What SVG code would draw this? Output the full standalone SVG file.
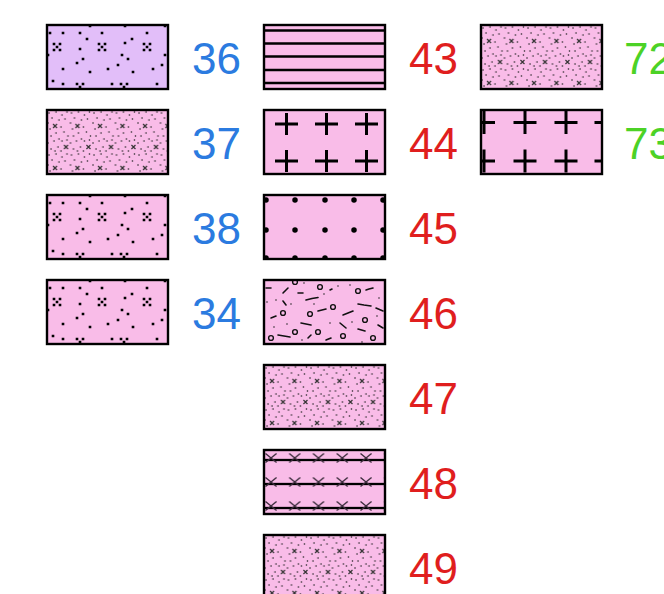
<svg xmlns="http://www.w3.org/2000/svg" width="664" height="594" viewBox="0 0 664 594">
<style>
.bg{fill:#f9bce8}
.lil{fill:#e2bef9}
.fr{stroke:#000;stroke-width:2.4}
.lbl{font-family:"Liberation Sans",Arial,sans-serif;font-size:44px}
.b{fill:#2b7be0}.r{fill:#e01e1e}.g{fill:#4cd226}
.dt{fill:none;stroke:#222;stroke-linecap:round;stroke-width:1.6}
.sq{fill:none;stroke:#000;stroke-linecap:square;stroke-width:2.6}
.xm{fill:none;stroke:#333;stroke-width:1.2}
.ln{fill:none;stroke:#000;stroke-width:2.3}
</style>
<defs>
<pattern id="pSparse" width="121" height="64" patternUnits="userSpaceOnUse">
<path class="sq" d="M7 19h.01M13 19h.01M10 22h.01M7 25h.01M13 25h.01M52 19h.01M58 19h.01M55 22h.01M52 25h.01M58 25h.01M97 19h.01M103 19h.01M100 22h.01M97 25h.01M103 25h.01M30 59h.01M36 59h.01M33 62h.01M74 59h.01M80 59h.01M77 62h.01M3 8h.01M16 8h.01M33 8h.01M55 8h.01M100 8h.01M43 1h.01M78 1h.01M118 1h.01M33 24h.01M40 14h.01M78 18h.01M85 14h.01M75 30h.01M81 34h.01M36 34h.01M30 38h.01M71 40h.01M118 30h.01M115 40h.01M16 44h.01M43 47h.01M61 44h.01M86 47h.01M106 44h.01M6 56h.01M16 59h.01M65 59h.01M110 59h.01M1 30h.01"/>
</pattern>
<pattern id="pFine" width="22.5" height="42" patternUnits="userSpaceOnUse">
<path class="dt" d="M2 3h.01M9 2h.01M15 5h.01M20 2h.01M5 8h.01M12 10h.01M18 9h.01M1 13h.01M14 17h.01M3 19h.01M17 22h.01M9 23h.01M21 26h.01M4 26h.01M12 29h.01M1 33h.01M7 31h.01M15 31h.01M20 30h.01M4 39h.01M11 37h.01M14 41h.01M8 41h.01"/>
<path class="xm" d="M6 14l4 4M10 14l-4 4M17 35l4 4M21 35l-4 4"/>
</pattern>
<pattern id="pH" width="121" height="64" patternUnits="userSpaceOnUse">
<path class="ln" d="M0 5.5H121M0 18.5H121M0 31.5H121M0 45H121M0 58H121"/>
</pattern>
<pattern id="pPlus44" width="121" height="64" patternUnits="userSpaceOnUse">
<path fill="none" stroke="#000" stroke-width="3" d="M11 14h23M22.5 3v22M51 14h23M62.5 3v22M91 14h23M102.5 3v22M11 51h23M22.5 40v22M51 51h23M62.5 40v22M91 51h23M102.5 40v22"/>
</pattern>
<pattern id="pPlus73" width="122" height="64" patternUnits="userSpaceOnUse">
<path fill="none" stroke="#000" stroke-width="3" d="M-9 12.5h23M3 1v23M32.5 12.5h23M44 1v23M73.5 12.5h23M85 1v23M113.5 12.5h23M125 1v23M-9 51h23M3 39.5v23M32.5 51h23M44 39.5v23M73.5 51h23M85 39.5v23M113.5 51h23M125 39.5v23"/>
</pattern>
<pattern id="pDot" width="121" height="64" patternUnits="userSpaceOnUse">
<path fill="none" stroke="#000" stroke-width="5.5" stroke-linecap="round" d="M2 5h.01M31 5h.01M61 5h.01M90 5h.01M119 5h.01M2 35h.01M31 35h.01M61 35h.01M90 35h.01M119 35h.01M2 63h.01M31 63h.01M61 63h.01M90 63h.01M119 63h.01"/>
</pattern>
<pattern id="pX" width="23.75" height="24" patternUnits="userSpaceOnUse">
<path class="ln" d="M0 10H23.75"/>
<path fill="none" stroke="#3a2a3a" stroke-width="1.4" d="M1.5 3.5l11 9M12.5 3.5l-11 9"/>
</pattern>
<pattern id="pCong" width="121" height="64" patternUnits="userSpaceOnUse">
<g fill="none" stroke="#111" stroke-width="1.4">
<circle cx="31" cy="2" r="2.4"/><circle cx="56" cy="7" r="2.4"/><circle cx="94" cy="11" r="2.4"/><circle cx="69" cy="27" r="2.4"/><circle cx="19" cy="33" r="2.4"/><circle cx="46" cy="34" r="2.4"/><circle cx="101" cy="40" r="2.4"/><circle cx="31" cy="52" r="2.4"/><circle cx="54" cy="52" r="2.4"/><circle cx="79" cy="56" r="2.4"/><circle cx="7" cy="58" r="2.4"/><circle cx="109" cy="58" r="2.4"/>
</g>
<path fill="none" stroke="#111" stroke-width="1.6" stroke-linecap="round" d="M2 8h5M19 13l5-5M34 13h5M42 20l6-1.5l6-1M66 10l2-1M102 10l3-1l4-1M94 24l6 1l7 1M7 38l5-2M19 21l3 4M54 31l4-1l4-1M79 35l5-2l5-2M76 43l6 5M37 43l5 1l5 1M94 49l7 2M14 55l6 1l6 1M44 58l3-3M112 28l7 3M114 45l5 3M62 60l5-2"/>
<path class="dt" d="M12 20h.01M27 24h.01M60 14h.01M86 5h.01M115 18h.01M10 47h.01M66 43h.01M88 42h.01M113 36h.01M23 44h.01M38 60h.01M98 62h.01M50 24h.01M74 6h.01M3 22h.01M40 3h.01"/>
</pattern>
</defs>
<rect width="664" height="594" fill="#fff"/>

<g id="n36" transform="translate(47,25)"><rect class="lil" width="121" height="64"/><rect class="fr" width="121" height="64" fill="url(#pSparse)"/><text class="lbl b" x="145" y="49">36</text></g>
<g id="n37" transform="translate(47,110)"><rect class="bg" width="121" height="64"/><rect class="fr" width="121" height="64" fill="url(#pFine)"/><text class="lbl b" x="145" y="49">37</text></g>
<g id="n38" transform="translate(47,195)"><rect class="bg" width="121" height="64"/><rect class="fr" width="121" height="64" fill="url(#pSparse)"/><text class="lbl b" x="145" y="49">38</text></g>
<g id="n34" transform="translate(47,280)"><rect class="bg" width="121" height="64"/><rect class="fr" width="121" height="64" fill="url(#pSparse)"/><text class="lbl b" x="145" y="49">34</text></g>

<g id="n43" transform="translate(264,25)"><rect class="bg" width="121" height="64"/><rect class="fr" width="121" height="64" fill="url(#pH)"/><text class="lbl r" x="145" y="49">43</text></g>
<g id="n44" transform="translate(264,110)"><rect class="bg" width="121" height="64"/><rect class="fr" width="121" height="64" fill="url(#pPlus44)"/><text class="lbl r" x="145" y="49">44</text></g>
<g id="n45" transform="translate(264,195)"><rect class="bg" width="121" height="64"/><rect class="fr" width="121" height="64" fill="url(#pDot)"/><text class="lbl r" x="145" y="49">45</text></g>
<g id="n46" transform="translate(264,280)"><rect class="bg" width="121" height="64"/><rect class="fr" width="121" height="64" fill="url(#pCong)"/><text class="lbl r" x="145" y="49">46</text></g>
<g id="n47" transform="translate(264,365)"><rect class="bg" width="121" height="64"/><rect class="fr" width="121" height="64" fill="url(#pFine)"/><text class="lbl r" x="145" y="49">47</text></g>
<g id="n48" transform="translate(264,450)"><rect class="bg" width="121" height="64"/><rect class="fr" width="121" height="64" fill="url(#pX)"/><text class="lbl r" x="145" y="49">48</text></g>
<g id="n49" transform="translate(264,535)"><rect class="bg" width="121" height="64"/><rect class="fr" width="121" height="64" fill="url(#pFine)"/><text class="lbl r" x="145" y="49">49</text></g>

<g id="n72" transform="translate(481,25)"><rect class="bg" width="121" height="64"/><rect class="fr" width="121" height="64" fill="url(#pFine)"/><text class="lbl g" x="143" y="49">72</text></g>
<g id="n73" transform="translate(481,110)"><rect class="bg" width="121" height="64"/><rect class="fr" width="121" height="64" fill="url(#pPlus73)"/><text class="lbl g" x="143" y="49">73</text></g>

<g id="connectors"/>
</svg>
